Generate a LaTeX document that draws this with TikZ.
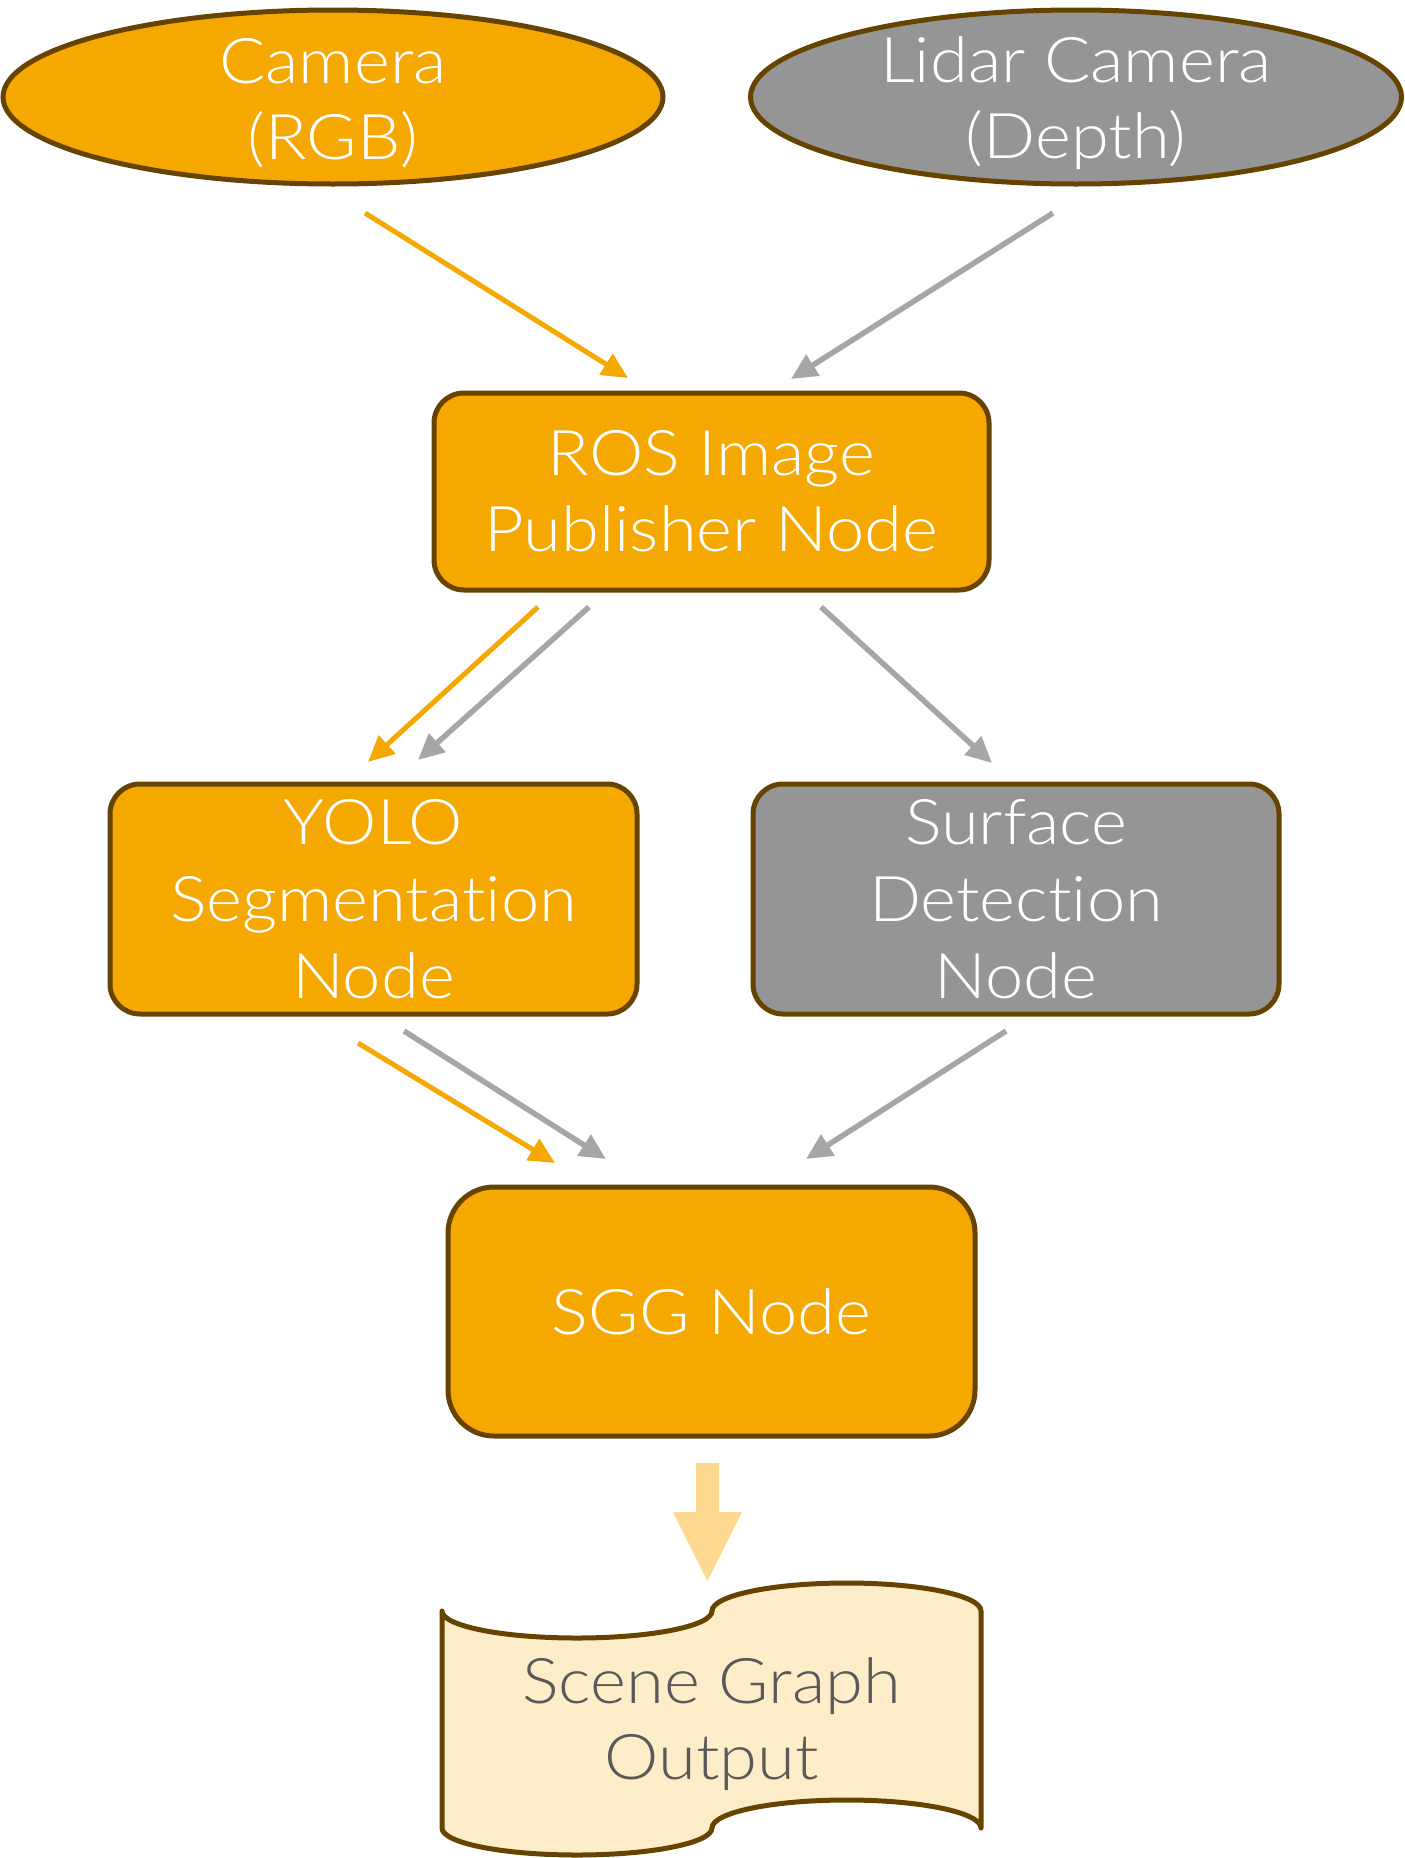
\documentclass[tikz,border=0pt]{standalone}
\usepackage{fontspec}
\setmainfont{Lato Light}[FakeStretch=1.09,Ligatures=NoCommon]
\usetikzlibrary{arrows.meta,calc,shapes.geometric}
\definecolor{org}{HTML}{F4A800}
\definecolor{brn}{HTML}{664400}
\definecolor{gfill}{HTML}{959595}
\definecolor{garr}{HTML}{A6A6A6}
\definecolor{lorg}{HTML}{FCD98E}
\definecolor{docfill}{HTML}{FEEDC8}
\definecolor{doctext}{HTML}{595959}
\begin{document}
\begin{tikzpicture}[x=1pt,y=-1pt,
  lbl/.style={align=center,text=white,inner sep=0pt,font=\fontsize{63}{76}\selectfont},
  oval/.style={ellipse,draw=brn,line width=5pt,inner sep=0pt},
  box/.style={rectangle,rounded corners=30pt,draw=brn,line width=5pt,inner sep=0pt},
  oarr/.style={draw=org,line width=5pt,-{Triangle[length=26pt,width=24pt]}},
  garrow/.style={draw=garr,line width=5.5pt,-{Triangle[length=26pt,width=24pt]}}
]
\path[use as bounding box] (0,0) rectangle (1405,1858);

% ellipses
\node[oval,fill=org,minimum width=660pt,minimum height=174pt] (cam) at (333,97) {};
\node[lbl] (camt) at ($(cam.center)+(0,6)$) {Camera\\(RGB)};
\node[oval,fill=gfill,minimum width=651pt,minimum height=174pt] (lid) at (1076,97) {};
\node[lbl] (lidt) at ($(lid.center)+(0,6)$) {Lidar Camera\\(Depth)};

% boxes
\node[box,fill=org,minimum width=555pt,minimum height=197pt] (ros) at (711.5,491.5) {};
\node[lbl] (rost) at (ros.center) {ROS Image\\Publisher Node};
\node[box,fill=org,minimum width=527pt,minimum height=230pt] (yolo) at (373.5,899) {};
\node[lbl,font=\fontsize{63}{77}\selectfont] (yolot) at (yolo.center) {YOLO\\Segmentation\\Node};
\node[box,fill=gfill,minimum width=526pt,minimum height=230pt] (surf) at (1016,899) {};
\node[lbl,font=\fontsize{63}{77}\selectfont] (surft) at (surf.center) {Surface\\Detection\\Node};
\node[box,fill=org,rounded corners=46pt,minimum width=527pt,minimum height=249pt] (sgg) at (711.5,1311.5) {};
\node[lbl] (sggt) at (sgg.center) {SGG Node};

% document shape
\path[draw=brn,line width=5pt,fill=docfill,line join=round]
  (442,1611) arc[start angle=180,end angle=0,x radius=135,y radius=27]
  arc[start angle=180,end angle=360,x radius=134.5,y radius=28]
  -- (981,1828)
  arc[start angle=0,end angle=-180,x radius=134.5,y radius=28]
  arc[start angle=0,end angle=180,x radius=135,y radius=27]
  -- cycle;
\node[lbl,text=doctext] (out) at (711.5,1724) {Scene Graph\\Output};

% block arrow
\fill[lorg] (696,1463) -- (719,1463) -- (719,1512) -- (742,1512) -- (707.5,1581) -- (673,1512) -- (696,1512) -- cycle;
\coordinate (bk) at (707.5,1463);

% connector coordinates
\coordinate (a1s) at (365,213);  \coordinate (a1e) at (628,378);
\coordinate (a2s) at (1053,213); \coordinate (a2e) at (791,379);
\coordinate (a3s) at (538,607);  \coordinate (a3e) at (368,762);
\coordinate (a4s) at (589,607);  \coordinate (a4e) at (418,760);
\coordinate (a5s) at (821,607);  \coordinate (a5e) at (992,763);
\coordinate (a6s) at (358,1043); \coordinate (a6e) at (555,1163);
\coordinate (a7s) at (404,1031); \coordinate (a7e) at (606,1159);
\coordinate (a8s) at (1006,1031);\coordinate (a8e) at (806,1159);

\draw[oarr] (a1s) -- (a1e);
\draw[garrow] (a2s) -- (a2e);
\draw[oarr] (a3s) -- (a3e);
\draw[garrow] (a4s) -- (a4e);
\draw[garrow] (a5s) -- (a5e);
\draw[oarr] (a6s) -- (a6e);
\draw[garrow] (a7s) -- (a7e);
\draw[garrow] (a8s) -- (a8e);
\end{tikzpicture}
\end{document}
